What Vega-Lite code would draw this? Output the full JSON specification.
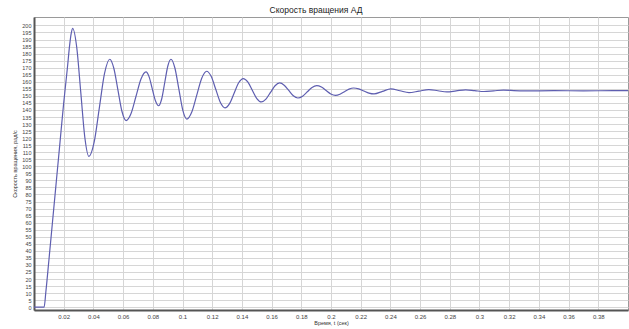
{
  "$schema": "https://vega.github.io/schema/vega-lite/v6.json",
  "width": 594,
  "height": 293,
  "autosize": {"type": "none"},
  "padding": {"left": 34, "top": 17, "right": 1, "bottom": 19},
  "background": "white",
  "config": {
    "font": "Liberation Sans",
    "view": {"stroke": "#9a9a9a", "strokeWidth": 1}
  },
  "title": {
    "text": "Скорость вращения АД",
    "fontSize": 8.5,
    "fontWeight": "normal",
    "color": "#222222",
    "offset": 3,
    "dx": -15
  },
  "data": {
    "values": [
      {"t": 0.0, "v": 0},
      {"t": 0.0068, "v": 0},
      {"t": 0.008, "v": 11},
      {"t": 0.010, "v": 33},
      {"t": 0.0125, "v": 61},
      {"t": 0.015, "v": 89},
      {"t": 0.0175, "v": 117},
      {"t": 0.020, "v": 145},
      {"t": 0.0225, "v": 170},
      {"t": 0.024, "v": 186},
      {"t": 0.025, "v": 194},
      {"t": 0.026, "v": 198},
      {"t": 0.02875, "v": 184.7},
      {"t": 0.0315, "v": 152.5},
      {"t": 0.03425, "v": 120.3},
      {"t": 0.037, "v": 107},
      {"t": 0.0405, "v": 117.1},
      {"t": 0.044, "v": 141.5},
      {"t": 0.0475, "v": 165.9},
      {"t": 0.051, "v": 176},
      {"t": 0.05375, "v": 169.6},
      {"t": 0.0565, "v": 154.25},
      {"t": 0.05925, "v": 138.9},
      {"t": 0.062, "v": 132.5},
      {"t": 0.06535, "v": 137.5},
      {"t": 0.0687, "v": 149.75},
      {"t": 0.07205, "v": 162.0},
      {"t": 0.0754, "v": 167},
      {"t": 0.077525, "v": 163.5},
      {"t": 0.07965, "v": 155},
      {"t": 0.081775, "v": 146.5},
      {"t": 0.0839, "v": 143},
      {"t": 0.085975, "v": 147.8},
      {"t": 0.08805, "v": 159.5},
      {"t": 0.090125, "v": 171.2},
      {"t": 0.0922, "v": 176},
      {"t": 0.094875, "v": 169.8},
      {"t": 0.09755, "v": 154.75},
      {"t": 0.100225, "v": 139.7},
      {"t": 0.1029, "v": 133.5},
      {"t": 0.10625, "v": 138.5},
      {"t": 0.1096, "v": 150.5},
      {"t": 0.11295, "v": 162.5},
      {"t": 0.1163, "v": 167.5},
      {"t": 0.119375, "v": 163.7},
      {"t": 0.12245, "v": 154.5},
      {"t": 0.125525, "v": 145.3},
      {"t": 0.1286, "v": 141.5},
      {"t": 0.131675, "v": 144.5},
      {"t": 0.13475, "v": 151.9},
      {"t": 0.137825, "v": 159.3},
      {"t": 0.1409, "v": 162.3},
      {"t": 0.14395, "v": 159.9},
      {"t": 0.147, "v": 154},
      {"t": 0.15005, "v": 148.1},
      {"t": 0.1531, "v": 145.7},
      {"t": 0.156175, "v": 147.7},
      {"t": 0.15925, "v": 152.45},
      {"t": 0.162325, "v": 157.2},
      {"t": 0.1654, "v": 159.2},
      {"t": 0.168475, "v": 157.6},
      {"t": 0.17155, "v": 153.85},
      {"t": 0.174625, "v": 150.1},
      {"t": 0.1777, "v": 148.5},
      {"t": 0.180875, "v": 149.8},
      {"t": 0.18405, "v": 152.9},
      {"t": 0.187225, "v": 156.0},
      {"t": 0.1904, "v": 157.3},
      {"t": 0.19355, "v": 156.3},
      {"t": 0.1967, "v": 153.85},
      {"t": 0.19985, "v": 151.4},
      {"t": 0.203, "v": 150.4},
      {"t": 0.20605, "v": 151.2},
      {"t": 0.2091, "v": 153},
      {"t": 0.21215, "v": 154.8},
      {"t": 0.2152, "v": 155.6},
      {"t": 0.21865, "v": 155},
      {"t": 0.2221, "v": 153.5},
      {"t": 0.22555, "v": 152},
      {"t": 0.229, "v": 151.4},
      {"t": 0.23465, "v": 153.2},
      {"t": 0.2403, "v": 155},
      {"t": 0.2464, "v": 153.65},
      {"t": 0.2525, "v": 152.3},
      {"t": 0.2592, "v": 153.4},
      {"t": 0.2659, "v": 154.5},
      {"t": 0.272, "v": 153.65},
      {"t": 0.278, "v": 152.8},
      {"t": 0.2843, "v": 153.55},
      {"t": 0.2907, "v": 154.3},
      {"t": 0.2968, "v": 153.7},
      {"t": 0.303, "v": 153.1},
      {"t": 0.3096, "v": 153.6},
      {"t": 0.3162, "v": 154.1},
      {"t": 0.33, "v": 153.5},
      {"t": 0.35, "v": 153.7},
      {"t": 0.37, "v": 153.6},
      {"t": 0.39, "v": 153.7},
      {"t": 0.4, "v": 153.7}
    ]
  },
  "mark": {"type": "line", "interpolate": "monotone", "color": "#5e5eb0", "strokeWidth": 1.2, "clip": true},
  "encoding": {
    "x": {
      "field": "t",
      "type": "quantitative",
      "scale": {"domain": [0, 0.4], "nice": false, "zero": false},
      "axis": {
        "values": [0.02, 0.04, 0.06, 0.08, 0.1, 0.12, 0.14, 0.16, 0.18, 0.2, 0.22, 0.24, 0.26, 0.28, 0.3, 0.32, 0.34, 0.36, 0.38],
        "format": ".2~f",
        "title": "Время, t (сек)",
        "titleFontSize": 5.5,
        "titleFontWeight": "normal",
        "titleColor": "#333333",
        "titlePadding": 1,
        "labelFontSize": 6,
        "labelColor": "#444444",
        "labelPadding": 3,
        "ticks": false,
        "domainColor": "#555555",
        "domainWidth": 2,
        "grid": true,
        "gridColor": "#d6d6d6",
        "gridWidth": 1
      }
    },
    "y": {
      "field": "v",
      "type": "quantitative",
      "scale": {"domain": [-2, 206], "nice": false, "zero": false},
      "axis": {
        "values": [0, 5, 10, 15, 20, 25, 30, 35, 40, 45, 50, 55, 60, 65, 70, 75, 80, 85, 90, 95, 100, 105, 110, 115, 120, 125, 130, 135, 140, 145, 150, 155, 160, 165, 170, 175, 180, 185, 190, 195, 200],
        "title": "Скорость вращения, рад/с",
        "titleFontSize": 5.5,
        "titleFontWeight": "normal",
        "titleColor": "#333333",
        "titlePadding": 4,
        "labelFontSize": 5.5,
        "labelColor": "#444444",
        "labelPadding": 3,
        "labelOverlap": false,
        "ticks": false,
        "domainColor": "#555555",
        "domainWidth": 2,
        "grid": true,
        "gridColor": "#d6d6d6",
        "gridWidth": 1
      }
    }
  }
}
